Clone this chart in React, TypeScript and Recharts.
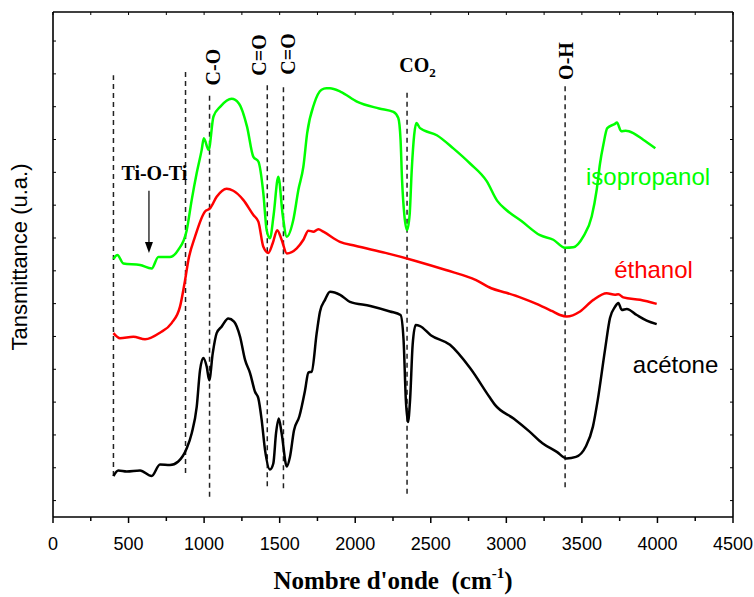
import React from 'react';
import { LineChart, Line, XAxis, YAxis, ReferenceLine, ReferenceDot } from 'recharts';

// ---- x axis (wavenumber, cm-1) ----
const xTicks = [0, 250, 500, 750, 1000, 1250, 1500, 1750, 2000, 2250, 2500, 2750, 3000, 3250, 3500, 3750, 4000, 4250, 4500];
const xTickLabels = ['0', '', '500', '', '1000', '', '1500', '', '2000', '', '2500', '', '3000', '', '3500', '', '4000', '', '4500'];
const yTicks = [3.25, 9.75, 16.25, 22.75, 29.25, 35.75, 42.25, 48.75, 55.25, 61.75, 68.25, 74.75, 81.25, 87.75, 94.25];

// ---- acétone (black) ----
const acetoneWn = [400, 432, 488, 576, 653, 708, 774, 829, 885, 918, 951, 973, 995, 1017, 1034, 1057, 1083, 1116, 1160, 1198, 1238, 1271, 1304, 1337, 1359, 1381, 1403, 1436, 1458, 1476, 1494, 1513, 1547, 1568, 1595, 1630, 1668, 1690, 1712, 1745, 1767, 1800, 1833, 1900, 1965, 2100, 2230, 2300, 2320, 2335, 2349, 2363, 2380, 2400, 2429, 2500, 2627, 2760, 2892, 2925, 3048, 3150, 3239, 3334, 3398, 3461, 3525, 3573, 3605, 3653, 3686, 3719, 3741, 3764, 3797, 3863, 3929, 3995];
const acetoneT = [8.1, 9.2, 9.0, 9.2, 8.1, 10.4, 10.3, 11.0, 13.6, 16.6, 21.8, 29.1, 31.5, 29.8, 27.1, 32.4, 36.4, 37.7, 39.3, 38.7, 35.7, 31.1, 28.5, 24.8, 23.5, 19.2, 13.3, 9.4, 10.6, 16.6, 19.5, 16.6, 10.0, 11.9, 17.2, 19.9, 25.1, 28.6, 28.8, 36.4, 40.7, 43.0, 44.6, 44.0, 42.6, 41.8, 40.7, 40.0, 35.0, 23.2, 18.8, 23.2, 34.1, 38.0, 37.8, 36.0, 34.1, 29.5, 23.6, 22.2, 19.5, 17.0, 14.6, 12.9, 11.6, 11.9, 13.9, 17.9, 23.2, 33.1, 39.4, 41.6, 42.4, 41.0, 41.2, 40.0, 38.9, 38.2];

// ---- éthanol (red) ----
const ethanolWn = [400, 443, 532, 609, 708, 785, 840, 874, 896, 940, 1006, 1039, 1083, 1149, 1193, 1259, 1326, 1359, 1392, 1425, 1454, 1484, 1513, 1547, 1613, 1657, 1690, 1723, 1756, 1789, 1899, 2000, 2200, 2400, 2600, 2800, 2900, 3000, 3100, 3200, 3300, 3355, 3400, 3488, 3576, 3664, 3719, 3741, 3774, 3885, 3995];
const ethanolT = [36.4, 35.4, 35.7, 35.2, 36.5, 38.4, 41.6, 46.9, 50.9, 55.5, 60.5, 61.1, 63.4, 65.0, 64.6, 62.8, 59.8, 58.5, 53.5, 52.3, 54.2, 56.8, 54.9, 52.2, 53.2, 54.9, 56.7, 56.5, 57.0, 56.5, 54.5, 53.7, 52.3, 50.7, 48.9, 46.9, 45.3, 44.4, 43.4, 42.2, 40.8, 40.0, 39.7, 40.7, 43.0, 44.3, 44.0, 44.1, 43.5, 43.0, 42.2];

// ---- isopropanol (green) ----
const isoWn = [400, 426, 466, 576, 653, 697, 774, 829, 885, 918, 951, 984, 998, 1030, 1062, 1109, 1182, 1230, 1284, 1326, 1359, 1392, 1414, 1436, 1460, 1491, 1520, 1547, 1590, 1624, 1657, 1682, 1729, 1777, 1809, 1833, 1904, 2015, 2158, 2253, 2285, 2300, 2310, 2325, 2343, 2360, 2374, 2390, 2405, 2429, 2540, 2649, 2760, 2870, 2940, 3000, 3100, 3223, 3311, 3388, 3443, 3509, 3565, 3598, 3620, 3642, 3668, 3716, 3732, 3760, 3790, 3811, 3906, 3986];
const isoT = [51.1, 51.9, 50.2, 49.9, 49.2, 51.5, 51.5, 52.9, 56.8, 62.8, 68.1, 72.7, 75.0, 72.7, 79.3, 81.3, 82.8, 81.9, 77.3, 71.3, 70.4, 64.1, 56.8, 55.2, 59.8, 67.4, 59.8, 55.5, 58.8, 64.8, 69.4, 76.0, 81.9, 84.6, 84.9, 84.9, 84.2, 82.2, 80.9, 80.2, 79.0, 74.7, 66.7, 59.8, 56.8, 59.8, 68.7, 75.6, 78.0, 77.0, 75.6, 73.0, 70.0, 66.5, 62.6, 60.8, 58.6, 55.8, 54.9, 53.3, 53.4, 55.5, 59.5, 64.8, 70.0, 73.7, 77.0, 77.8, 78.1, 76.4, 76.5, 76.4, 74.7, 73.0];

// ---- dashed band markers ----
const bandWn = [400, 877, 1036, 1418, 1525, 2343, 3389];
const bandTop = [87.5, 88.1, 83.6, 85.7, 85.7, 84.0, 85.5];
const bandBottom = [8.1, 8.7, 4.0, 6.1, 5.7, 4.6, 5.9];

// ---- rotated band labels ----
const bandLabels = ['C-O', 'C=O', 'C=O', 'O-H'];
const bandLabelWn = [1056, 1363, 1555, 3398];
const bandLabelT = [89.1, 91.5, 91.7, 90.3];

// ---- series labels ----
const seriesNames = ['isopropanol', 'éthanol', 'acétone'];
const seriesColors = ['#00ff00', '#ff0000', '#000000'];
const seriesLabelWn = [3938, 3974, 4120];
const seriesLabelT = [65.7, 47.3, 28.5];

const zip = (xs: number[], ys: number[]) => xs.map((w, i) => ({ w, t: ys[i] }));
const acetoneData = zip(acetoneWn, acetoneT);
const ethanolData = zip(ethanolWn, ethanolT);
const isoData = zip(isoWn, isoT);

const SANS = '"Liberation Sans", Arial, sans-serif';
const SERIF = '"Liberation Serif", "Times New Roman", serif';

const BottomTick = (props: any) => {
  const { x, y, index } = props;
  const label = xTickLabels[index];
  const major = label !== '';
  return (
    <g>
      <line x1={x} x2={x} y1={y} y2={y + (major ? 6 : 4)} stroke="#000" strokeWidth={1.5} />
      {major && (
        <text x={x} y={y + 33} textAnchor="middle" fontFamily={SANS} fontSize={18} fill="#000">
          {label}
        </text>
      )}
    </g>
  );
};

const TopTick = (props: any) => {
  const { x, y } = props;
  return <line x1={x} x2={x} y1={y} y2={y + 3} stroke="#000" strokeWidth={1} />;
};
const LeftTick = (props: any) => {
  const { x, y } = props;
  return <line x1={x} x2={x + 3} y1={y} y2={y} stroke="#000" strokeWidth={1} />;
};
const RightTick = (props: any) => {
  const { x, y } = props;
  return <line x1={x} x2={x - 3} y1={y} y2={y} stroke="#000" strokeWidth={1} />;
};

export default function App() {
  return (
    <div style={{ position: 'absolute', left: 0, top: 0, width: 754, height: 597, background: '#fff' }}>
      <LineChart width={754} height={597} margin={{ top: 11, right: 20, bottom: 79, left: 52 }}>
        <XAxis
          xAxisId="b"
          type="number"
          dataKey="w"
          domain={[0, 4500]}
          ticks={xTicks}
          interval={0}
          tick={<BottomTick />}
          tickLine={false}
          tickSize={0}
          tickMargin={0}
          height={1}
          axisLine={{ stroke: '#000', strokeWidth: 1.6 }}
          allowDataOverflow
        />
        <XAxis
          xAxisId="t"
          orientation="top"
          type="number"
          dataKey="w"
          domain={[0, 4500]}
          ticks={xTicks}
          interval={0}
          tick={<TopTick />}
          tickLine={false}
          tickSize={0}
          tickMargin={0}
          height={1}
          axisLine={{ stroke: '#000', strokeWidth: 1.6 }}
          allowDataOverflow
        />
        <YAxis
          yAxisId="l"
          type="number"
          dataKey="t"
          domain={[0, 100]}
          ticks={yTicks}
          interval={0}
          tick={<LeftTick />}
          tickLine={false}
          tickSize={0}
          tickMargin={0}
          width={1}
          axisLine={{ stroke: '#000', strokeWidth: 1.6 }}
          allowDataOverflow
        />
        <YAxis
          yAxisId="r"
          orientation="right"
          type="number"
          dataKey="t"
          domain={[0, 100]}
          ticks={yTicks}
          interval={0}
          tick={<RightTick />}
          tickLine={false}
          tickSize={0}
          tickMargin={0}
          width={1}
          axisLine={{ stroke: '#000', strokeWidth: 1.6 }}
          allowDataOverflow
        />

        {bandWn.map((w, i) => (
          <ReferenceLine
            key={'band' + i}
            xAxisId="b"
            yAxisId="l"
            segment={[{ x: w, y: bandBottom[i] }, { x: w, y: bandTop[i] }]}
            stroke="#222"
            strokeWidth={1.5}
            strokeDasharray="5 4"
          />
        ))}

        <Line xAxisId="b" yAxisId="l" data={isoData} dataKey="t" type="monotone" stroke="#00ff00" strokeWidth={2.5} dot={false} isAnimationActive={false} />
        <Line xAxisId="b" yAxisId="l" data={ethanolData} dataKey="t" type="monotone" stroke="#ff0000" strokeWidth={2.5} dot={false} isAnimationActive={false} />
        <Line xAxisId="b" yAxisId="l" data={acetoneData} dataKey="t" type="monotone" stroke="#000000" strokeWidth={2.5} dot={false} isAnimationActive={false} />

        {bandLabels.map((lab, i) => (
          <ReferenceDot
            key={'bl' + i}
            xAxisId="b"
            yAxisId="l"
            x={bandLabelWn[i]}
            y={bandLabelT[i]}
            ifOverflow="visible"
            shape={(p: any) => (
              <text
                x={p.cx}
                y={p.cy}
                transform={`rotate(-90 ${p.cx} ${p.cy})`}
                textAnchor="middle"
                dominantBaseline="central"
                fontFamily={SERIF}
                fontWeight="bold"
                fontSize={20}
                fill="#000"
              >
                {lab}
              </text>
            )}
          />
        ))}

        <ReferenceDot
          xAxisId="b"
          yAxisId="l"
          x={2412}
          y={88.1}
          ifOverflow="visible"
          shape={(p: any) => (
            <text x={p.cx} y={p.cy} textAnchor="middle" fontFamily={SERIF} fontWeight="bold" fontSize={20} fill="#000">
              CO<tspan fontSize={13} dy={5}>2</tspan>
            </text>
          )}
        />

        <ReferenceDot
          xAxisId="b"
          yAxisId="l"
          x={671}
          y={66.7}
          ifOverflow="visible"
          shape={(p: any) => (
            <text x={p.cx} y={p.cy} textAnchor="middle" fontFamily={SERIF} fontWeight="bold" fontSize={20} fill="#000">
              Ti-O-Ti
            </text>
          )}
        />

        <ReferenceLine
          xAxisId="b"
          yAxisId="l"
          segment={[{ x: 635, y: 64.6 }, { x: 635, y: 54 }]}
          stroke="#000"
          strokeWidth={1.2}
        />
        <ReferenceDot
          xAxisId="b"
          yAxisId="l"
          x={635}
          y={52.3}
          ifOverflow="visible"
          shape={(p: any) => (
            <polygon points={`${p.cx},${p.cy} ${p.cx - 4},${p.cy - 11} ${p.cx + 4},${p.cy - 11}`} fill="#000" />
          )}
        />

        {seriesNames.map((name, i) => (
          <ReferenceDot
            key={'sn' + i}
            xAxisId="b"
            yAxisId="l"
            x={seriesLabelWn[i]}
            y={seriesLabelT[i]}
            ifOverflow="visible"
            shape={(p: any) => (
              <text x={p.cx} y={p.cy} textAnchor="middle" fontFamily={SANS} fontSize={24} fill={seriesColors[i]}>
                {name}
              </text>
            )}
          />
        ))}
      </LineChart>

      <svg width={754} height={597} style={{ position: 'absolute', left: 0, top: 0, pointerEvents: 'none' }}>
        <text
          x={27}
          y={257}
          transform="rotate(-90 27 257)"
          textAnchor="middle"
          fontFamily={SANS}
          fontSize={22}
          fill="#000"
        >
          Tansmittance (u.a.)
        </text>
        <text x={393} y={589} textAnchor="middle" fontFamily={SERIF} fontWeight="bold" fontSize={25} fill="#000">
          {"Nombre d'onde\u00A0 (cm"}
          <tspan fontSize={15} dy={-11}>-1</tspan>
          <tspan dy={11}>)</tspan>
        </text>
      </svg>
    </div>
  );
}
